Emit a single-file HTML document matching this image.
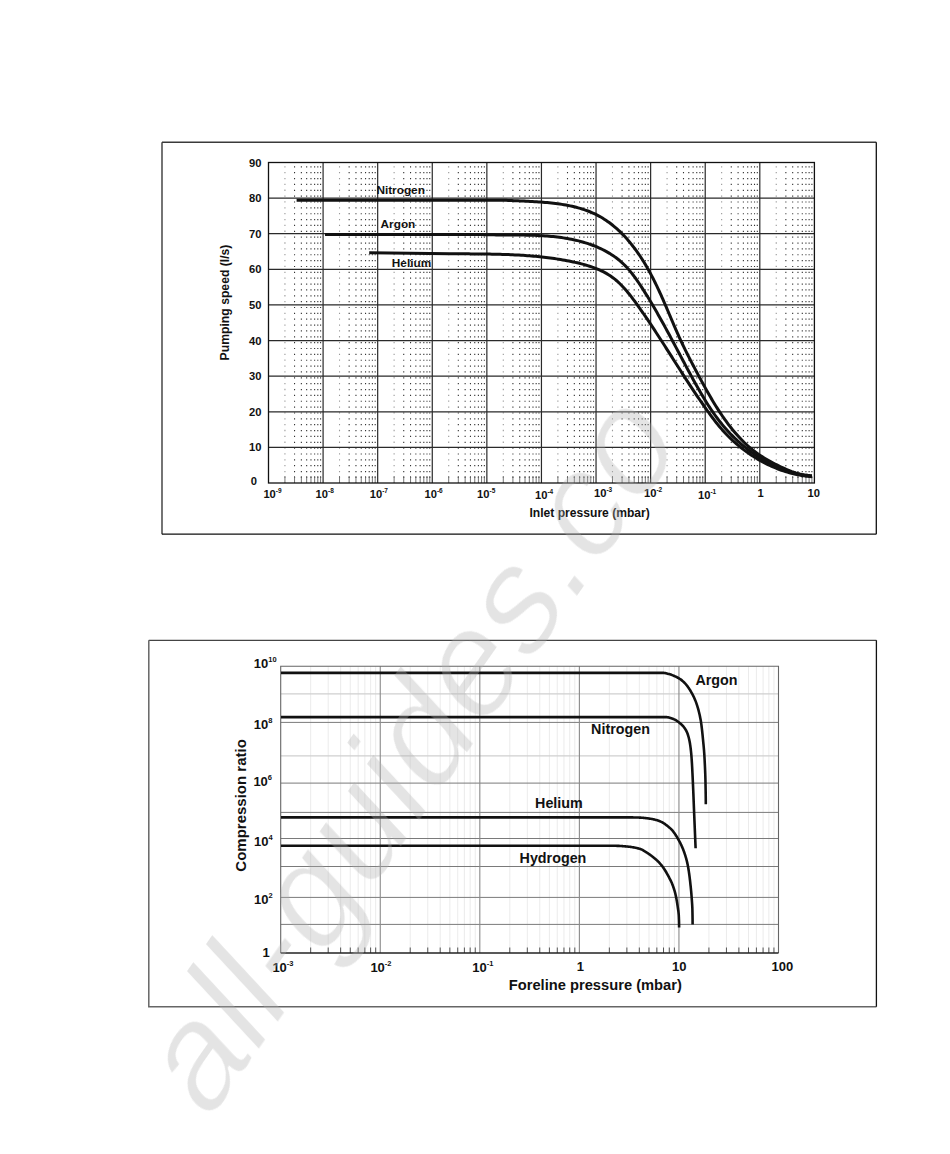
<!DOCTYPE html>
<html><head><meta charset="utf-8"><style>
html,body{margin:0;padding:0;background:#fff;width:950px;height:1154px;overflow:hidden}
svg{display:block}
text{font-family:"Liberation Sans", sans-serif;font-weight:bold;fill:#111}
path{fill:none}
text.wm{font-weight:normal;fill:rgb(176,176,176);fill-opacity:0.34}
</style></head><body>
<svg width="950" height="1154" viewBox="0 0 950 1154">
<defs><filter id="thin" x="-5%" y="-20%" width="110%" height="140%"><feMorphology operator="erode" radius="1.3"/></filter></defs>
<g><path d="M162 142.3 H876.3" stroke="#3a3a3a" stroke-width="1.4"/><path d="M162 142.3 V534.2" stroke="#3a3a3a" stroke-width="1.4"/><path d="M876.3 142.3 V534.2 M162 534.2 H876.3" stroke="#111" stroke-width="1.3"/><path d="M294.55 483V162.5M301.37 483V162.5M306.66 483V162.5M310.98 483V162.5M314.63 483V162.5M317.8 483V162.5M320.59 483V162.5M349.14 483V162.5M355.96 483V162.5M361.25 483V162.5M365.57 483V162.5M369.22 483V162.5M372.39 483V162.5M375.18 483V162.5M403.73 483V162.5M410.55 483V162.5M415.84 483V162.5M420.16 483V162.5M423.81 483V162.5M426.98 483V162.5M429.77 483V162.5M458.32 483V162.5M465.14 483V162.5M470.43 483V162.5M474.75 483V162.5M478.4 483V162.5M481.57 483V162.5M484.36 483V162.5M512.91 483V162.5M519.73 483V162.5M525.02 483V162.5M529.34 483V162.5M532.99 483V162.5M536.16 483V162.5M538.95 483V162.5M567.5 483V162.5M574.32 483V162.5M579.61 483V162.5M583.93 483V162.5M587.58 483V162.5M590.75 483V162.5M593.54 483V162.5M622.09 483V162.5M628.91 483V162.5M634.2 483V162.5M638.52 483V162.5M642.17 483V162.5M645.34 483V162.5M648.13 483V162.5M676.68 483V162.5M683.5 483V162.5M688.79 483V162.5M693.11 483V162.5M696.76 483V162.5M699.93 483V162.5M702.72 483V162.5M731.27 483V162.5M738.09 483V162.5M743.38 483V162.5M747.7 483V162.5M751.35 483V162.5M754.52 483V162.5M757.31 483V162.5M785.86 483V162.5M792.68 483V162.5M797.97 483V162.5M802.29 483V162.5M805.94 483V162.5M809.11 483V162.5M811.9 483V162.5" stroke="#333" stroke-width="1.1" stroke-dasharray="1.2 4.66" stroke-dashoffset="0.9"/><path d="M284.93 483V162.5M339.52 483V162.5M394.11 483V162.5M448.7 483V162.5M503.29 483V162.5M557.88 483V162.5M612.47 483V162.5M667.06 483V162.5M721.65 483V162.5M776.24 483V162.5" stroke="#999" stroke-width="1.1" stroke-dasharray="1.3 4.56" stroke-dashoffset="0.9"/><path d="M284.93 483V476M294.55 483V476M301.37 483V476M306.66 483V476M310.98 483V476M314.63 483V476M317.8 483V476M320.59 483V476M339.52 483V476M349.14 483V476M355.96 483V476M361.25 483V476M365.57 483V476M369.22 483V476M372.39 483V476M375.18 483V476M394.11 483V476M403.73 483V476M410.55 483V476M415.84 483V476M420.16 483V476M423.81 483V476M426.98 483V476M429.77 483V476M448.7 483V476M458.32 483V476M465.14 483V476M470.43 483V476M474.75 483V476M478.4 483V476M481.57 483V476M484.36 483V476M503.29 483V476M512.91 483V476M519.73 483V476M525.02 483V476M529.34 483V476M532.99 483V476M536.16 483V476M538.95 483V476M557.88 483V476M567.5 483V476M574.32 483V476M579.61 483V476M583.93 483V476M587.58 483V476M590.75 483V476M593.54 483V476M612.47 483V476M622.09 483V476M628.91 483V476M634.2 483V476M638.52 483V476M642.17 483V476M645.34 483V476M648.13 483V476M667.06 483V476M676.68 483V476M683.5 483V476M688.79 483V476M693.11 483V476M696.76 483V476M699.93 483V476M702.72 483V476M721.65 483V476M731.27 483V476M738.09 483V476M743.38 483V476M747.7 483V476M751.35 483V476M754.52 483V476M757.31 483V476M776.24 483V476M785.86 483V476M792.68 483V476M797.97 483V476M802.29 483V476M805.94 483V476M809.11 483V476M811.9 483V476" stroke="#666" stroke-width="0.9"/><path d="M323.09 162.5V483M377.68 162.5V483M432.27 162.5V483M486.86 162.5V483M541.45 162.5V483M596.04 162.5V483M650.63 162.5V483M705.22 162.5V483M759.81 162.5V483M268.5 198.11H814.4M268.5 233.72H814.4M268.5 269.33H814.4M268.5 304.94H814.4M268.5 340.56H814.4M268.5 376.17H814.4M268.5 411.78H814.4M268.5 447.39H814.4" stroke="#2a2a2a" stroke-width="1.2"/><rect x="268.5" y="162.5" width="545.9" height="320.5" fill="none" stroke="#111" stroke-width="1.3"/><path d="M296.6 200.2L500.26 200.15L502.25 200.2L504.23 200.27L506.21 200.34L508.17 200.42L510.13 200.5L512.1 200.59L514.08 200.68L516.07 200.77L518.08 200.86L520.1 200.94L522.13 201.03L524.17 201.12L526.23 201.22L528.29 201.31L530.37 201.42L532.45 201.53L534.54 201.65L536.64 201.77L538.74 201.91L540.84 202.06L542.95 202.21L545.05 202.39L547.16 202.57L549.27 202.78L551.38 202.99L553.49 203.23L555.59 203.49L557.69 203.76L559.78 204.06L561.87 204.37L563.95 204.72L566.02 205.08L568.08 205.47L570.13 205.89L572.17 206.33L574.2 206.81L576.22 207.31L578.22 207.84L580.21 208.41L582.17 209.01L584.13 209.64L586.06 210.31L587.98 211.02L589.87 211.76L591.75 212.54L593.6 213.36L595.43 214.22L597.23 215.13L599.01 216.07L600.76 217.06L602.5 218.08L604.2 219.15L605.89 220.25L607.55 221.39L609.18 222.56L610.8 223.77L612.39 225.02L613.96 226.29L615.5 227.6L617.03 228.94L618.53 230.31L620.01 231.71L621.46 233.14L622.9 234.59L624.31 236.07L625.71 237.58L627.08 239.11L628.43 240.66L629.76 242.24L631.07 243.83L632.36 245.45L633.62 247.09L634.87 248.74L636.1 250.41L637.31 252.1L638.5 253.81L639.67 255.53L640.82 257.26L641.96 259.01L643.07 260.77L644.16 262.54L645.24 264.32L646.3 266.1L647.34 267.9L648.36 269.7L649.37 271.51L650.36 273.32L651.33 275.15L652.29 276.97L653.23 278.8L654.16 280.64L655.07 282.48L655.98 284.32L656.87 286.17L657.75 288.03L658.62 289.88L659.48 291.75L660.33 293.61L661.17 295.48L662 297.35L662.83 299.22L663.66 301.09L664.47 302.97L665.28 304.85L666.09 306.72L666.9 308.6L667.7 310.49L668.5 312.37L669.3 314.25L670.1 316.13L670.9 318.02L671.7 319.9L672.5 321.78L673.31 323.66L674.12 325.54L674.93 327.42L675.74 329.3L676.57 331.17L677.4 333.05L678.23 334.92L679.07 336.79L679.92 338.66L680.78 340.52L681.65 342.38L682.53 344.24L683.42 346.09L684.31 347.94L685.22 349.79L686.13 351.63L687.05 353.48L687.97 355.32L688.9 357.15L689.84 358.99L690.79 360.82L691.74 362.66L692.69 364.49L693.65 366.31L694.61 368.14L695.58 369.97L696.55 371.79L697.52 373.61L698.5 375.43L699.48 377.25L700.46 379.07L701.44 380.89L702.43 382.7L703.42 384.52L704.41 386.33L705.41 388.13L706.42 389.94L707.43 391.73L708.45 393.53L709.47 395.32L710.51 397.1L711.55 398.88L712.6 400.65L713.66 402.41L714.73 404.17L715.81 405.92L716.9 407.66L718 409.39L719.11 411.11L720.24 412.83L721.38 414.53L722.53 416.23L723.7 417.91L724.88 419.58L726.08 421.24L727.29 422.89L728.52 424.53L729.77 426.15L731.04 427.76L732.32 429.35L733.62 430.94L734.94 432.5L736.28 434.05L737.64 435.59L739.02 437.1L740.42 438.6L741.84 440.07L743.28 441.52L744.74 442.95L746.23 444.36L747.74 445.74L749.27 447.1L750.83 448.43L752.41 449.73L754.01 451L755.64 452.24L757.3 453.45L758.98 454.63L760.68 455.77L762.41 456.88L764.17 457.97L765.94 459.02L767.73 460.05L769.53 461.06L771.35 462.04L773.18 463.01L775.02 463.96L776.87 464.9L778.72 465.83L780.58 466.73L782.44 467.61L784.32 468.47L786.2 469.3L788.1 470.09L790 470.85L791.92 471.57L793.85 472.24L795.8 472.86L797.76 473.43L799.74 473.94L801.73 474.4L803.74 474.79L805.77 475.11L807.82 475.36L809.89 475.54L811.98 475.64" fill="none" stroke="#111" stroke-width="3"/><path d="M325 234.5L480.16 234.47L482.13 234.55L484.11 234.63L486.09 234.69L488.08 234.74L490.07 234.79L492.07 234.83L494.07 234.86L496.08 234.89L498.09 234.91L500.1 234.92L502.12 234.93L504.14 234.94L506.17 234.95L508.2 234.96L510.23 234.97L512.27 234.98L514.3 234.99L516.34 235L518.39 235.01L520.43 235.03L522.48 235.06L524.52 235.09L526.57 235.13L528.62 235.17L530.67 235.22L532.72 235.29L534.78 235.36L536.83 235.44L538.88 235.54L540.93 235.64L542.98 235.76L545.03 235.9L547.08 236.05L549.13 236.21L551.17 236.39L553.22 236.59L555.26 236.81L557.3 237.05L559.34 237.3L561.37 237.58L563.41 237.88L565.44 238.2L567.46 238.55L569.49 238.92L571.51 239.31L573.52 239.73L575.53 240.18L577.54 240.65L579.53 241.15L581.52 241.68L583.5 242.24L585.46 242.82L587.42 243.44L589.36 244.08L591.28 244.76L593.19 245.47L595.09 246.21L596.96 246.98L598.82 247.79L600.66 248.63L602.48 249.5L604.27 250.41L606.04 251.35L607.79 252.33L609.51 253.34L611.21 254.4L612.88 255.49L614.51 256.61L616.12 257.78L617.7 258.99L619.25 260.23L620.76 261.52L622.24 262.84L623.68 264.21L625.09 265.62L626.47 267.06L627.82 268.54L629.14 270.05L630.43 271.59L631.7 273.16L632.94 274.76L634.16 276.37L635.36 278.01L636.54 279.67L637.71 281.34L638.85 283.03L639.99 284.73L641.11 286.44L642.22 288.16L643.33 289.88L644.42 291.61L645.51 293.34L646.59 295.07L647.66 296.81L648.73 298.56L649.79 300.3L650.84 302.05L651.88 303.81L652.92 305.56L653.95 307.32L654.98 309.08L656 310.85L657.02 312.62L658.03 314.39L659.03 316.16L660.04 317.94L661.03 319.72L662.02 321.5L663.01 323.28L664 325.07L664.98 326.85L665.95 328.64L666.93 330.43L667.9 332.22L668.87 334.02L669.84 335.81L670.8 337.61L671.76 339.4L672.72 341.2L673.68 343L674.64 344.79L675.59 346.59L676.55 348.39L677.5 350.19L678.46 351.99L679.41 353.79L680.37 355.59L681.32 357.39L682.28 359.19L683.23 360.99L684.19 362.79L685.14 364.58L686.1 366.38L687.06 368.18L688.03 369.97L688.99 371.76L689.96 373.56L690.93 375.35L691.9 377.13L692.87 378.92L693.85 380.71L694.83 382.49L695.82 384.27L696.81 386.04L697.81 387.82L698.82 389.58L699.83 391.35L700.85 393.1L701.88 394.85L702.92 396.6L703.96 398.34L705.02 400.07L706.09 401.79L707.17 403.51L708.26 405.21L709.36 406.91L710.47 408.6L711.6 410.28L712.75 411.95L713.91 413.6L715.08 415.25L716.27 416.88L717.47 418.51L718.7 420.12L719.94 421.71L721.2 423.3L722.47 424.87L723.77 426.42L725.09 427.96L726.43 429.48L727.78 430.99L729.16 432.49L730.56 433.96L731.98 435.42L733.42 436.86L734.88 438.29L736.36 439.69L737.86 441.08L739.37 442.44L740.91 443.79L742.46 445.12L744.03 446.42L745.62 447.71L747.22 448.97L748.84 450.22L750.48 451.44L752.14 452.63L753.81 453.81L755.5 454.96L757.2 456.08L758.91 457.19L760.65 458.26L762.39 459.31L764.15 460.34L765.93 461.34L767.72 462.31L769.52 463.26L771.34 464.18L773.16 465.07L775 465.93L776.86 466.76L778.72 467.56L780.6 468.34L782.49 469.08L784.38 469.79L786.29 470.48L788.21 471.13L790.14 471.74L792.09 472.33L794.03 472.88L795.99 473.4L797.96 473.89L799.94 474.34L801.92 474.76L803.92 475.14L805.92 475.49L807.93 475.8L809.95 476.08L811.97 476.32" fill="none" stroke="#111" stroke-width="3"/><path d="M369.2 252.7L449.97 253.65L452.08 253.68L454.18 253.71L456.28 253.73L458.38 253.76L460.48 253.78L462.58 253.8L464.68 253.82L466.78 253.84L468.87 253.86L470.97 253.88L473.06 253.9L475.15 253.92L477.25 253.94L479.34 253.96L481.43 253.99L483.52 254.01L485.61 254.04L487.7 254.07L489.79 254.11L491.87 254.15L493.96 254.19L496.05 254.24L498.13 254.29L500.22 254.34L502.3 254.4L504.39 254.47L506.47 254.54L508.56 254.62L510.64 254.71L512.72 254.8L514.81 254.9L516.89 255L518.97 255.12L521.05 255.24L523.14 255.37L525.22 255.51L527.3 255.66L529.38 255.81L531.46 255.98L533.55 256.16L535.63 256.35L537.71 256.55L539.79 256.76L541.87 256.98L543.96 257.21L546.04 257.46L548.12 257.71L550.21 257.99L552.29 258.27L554.37 258.57L556.46 258.88L558.54 259.2L560.63 259.54L562.71 259.9L564.8 260.27L566.89 260.65L568.97 261.05L571.06 261.47L573.15 261.91L575.24 262.36L577.32 262.83L579.39 263.33L581.46 263.85L583.52 264.4L585.56 264.97L587.59 265.58L589.61 266.21L591.61 266.88L593.59 267.59L595.54 268.33L597.48 269.11L599.39 269.93L601.27 270.8L603.12 271.71L604.94 272.66L606.73 273.66L608.48 274.71L610.2 275.82L611.87 276.97L613.51 278.18L615.11 279.44L616.67 280.75L618.2 282.11L619.69 283.51L621.15 284.95L622.59 286.43L623.99 287.95L625.37 289.49L626.73 291.07L628.06 292.67L629.38 294.3L630.67 295.94L631.95 297.61L633.22 299.29L634.47 300.98L635.72 302.69L636.95 304.4L638.18 306.11L639.4 307.83L640.61 309.55L641.82 311.27L643.02 313L644.22 314.73L645.41 316.47L646.6 318.21L647.78 319.95L648.95 321.69L650.12 323.44L651.29 325.19L652.45 326.94L653.61 328.69L654.77 330.44L655.92 332.2L657.07 333.96L658.21 335.72L659.35 337.48L660.49 339.25L661.63 341.01L662.76 342.78L663.9 344.54L665.03 346.31L666.16 348.08L667.28 349.85L668.41 351.62L669.54 353.38L670.66 355.15L671.79 356.92L672.91 358.69L674.03 360.46L675.16 362.23L676.28 364L677.41 365.76L678.53 367.53L679.66 369.29L680.79 371.06L681.92 372.82L683.05 374.58L684.18 376.34L685.32 378.1L686.46 379.86L687.6 381.61L688.74 383.36L689.89 385.11L691.03 386.86L692.19 388.61L693.34 390.35L694.5 392.09L695.67 393.82L696.83 395.56L698.01 397.29L699.18 399.01L700.37 400.74L701.55 402.46L702.75 404.17L703.94 405.89L705.15 407.59L706.36 409.3L707.57 411L708.8 412.69L710.02 414.38L711.26 416.07L712.51 417.74L713.77 419.41L715.04 421.06L716.33 422.71L717.63 424.33L718.95 425.95L720.29 427.55L721.65 429.12L723.03 430.68L724.44 432.22L725.86 433.74L727.3 435.24L728.77 436.72L730.26 438.18L731.77 439.62L733.3 441.04L734.85 442.43L736.42 443.81L738.01 445.16L739.62 446.5L741.25 447.81L742.91 449.1L744.58 450.36L746.27 451.61L747.98 452.83L749.71 454.02L751.46 455.2L753.22 456.34L755 457.47L756.8 458.56L758.61 459.63L760.44 460.67L762.29 461.69L764.15 462.68L766.02 463.64L767.91 464.57L769.81 465.47L771.72 466.34L773.65 467.18L775.58 467.99L777.53 468.77L779.49 469.52L781.46 470.23L783.44 470.92L785.43 471.57L787.43 472.18L789.44 472.76L791.45 473.31L793.47 473.82L795.5 474.3L797.54 474.74L799.58 475.14L801.63 475.5L803.69 475.83L805.74 476.12L807.81 476.37L809.87 476.59L811.95 476.76" fill="none" stroke="#111" stroke-width="3"/><text x="261.5" y="166.5" text-anchor="end" font-size="11.2">90</text><text x="261.5" y="202.1" text-anchor="end" font-size="11.2">80</text><text x="261.5" y="237.7" text-anchor="end" font-size="11.2">70</text><text x="261.5" y="273.3" text-anchor="end" font-size="11.2">60</text><text x="261.5" y="308.9" text-anchor="end" font-size="11.2">50</text><text x="261.5" y="344.6" text-anchor="end" font-size="11.2">40</text><text x="261.5" y="380.2" text-anchor="end" font-size="11.2">30</text><text x="261.5" y="415.8" text-anchor="end" font-size="11.2">20</text><text x="261.5" y="451.4" text-anchor="end" font-size="11.2">10</text><text x="256.9" y="484.5" text-anchor="end" font-size="11.2">0</text><text x="263.4" y="497.8" font-size="11.2">10<tspan font-size="6.5" dy="-5">-9</tspan></text><text x="315.6" y="497.8" font-size="11.2">10<tspan font-size="6.5" dy="-5">-8</tspan></text><text x="369.7" y="497.8" font-size="11.2">10<tspan font-size="6.5" dy="-5">-7</tspan></text><text x="424.5" y="497.8" font-size="11.2">10<tspan font-size="6.5" dy="-5">-6</tspan></text><text x="477.1" y="497.8" font-size="11.2">10<tspan font-size="6.5" dy="-5">-5</tspan></text><text x="535" y="499.3" font-size="11.2">10<tspan font-size="6.5" dy="-5">-4</tspan></text><text x="594" y="497" font-size="11.2">10<tspan font-size="6.5" dy="-5">-3</tspan></text><text x="644" y="496.5" font-size="11.2">10<tspan font-size="6.5" dy="-5">-2</tspan></text><text x="698" y="499" font-size="11.2">10<tspan font-size="6.5" dy="-5">-1</tspan></text><text x="757.6" y="496.5" font-size="11.2">1</text><text x="807.6" y="497" font-size="11.2">10</text><text x="529.5" y="517.3" font-size="12.1">Inlet pressure (mbar)</text><text transform="translate(229.3 302.5) rotate(-90)" text-anchor="middle" font-size="12.2">Pumping speed (l/s)</text><text x="376.4" y="193.8" font-size="11.8">Nitrogen</text><text x="380.6" y="228.1" font-size="11.8">Argon</text><text x="391.8" y="267.4" font-size="11.8">Helium</text></g>
<g><path d="M148.8 640.3 H876.4" stroke="#444" stroke-width="1.3"/><path d="M148.8 640.3 V1006.8 H876.4" stroke="#666" stroke-width="1.5"/><path d="M876.4 640.3 V1006.8" stroke="#111" stroke-width="1.3"/><path d="M310.67 666.2V953M328.2 666.2V953M340.64 666.2V953M350.29 666.2V953M358.17 666.2V953M364.84 666.2V953M370.61 666.2V953M375.7 666.2V953M410.23 666.2V953M427.76 666.2V953M440.2 666.2V953M449.85 666.2V953M457.73 666.2V953M464.4 666.2V953M470.17 666.2V953M475.26 666.2V953M509.79 666.2V953M527.32 666.2V953M539.76 666.2V953M549.41 666.2V953M557.29 666.2V953M563.96 666.2V953M569.73 666.2V953M574.82 666.2V953M609.35 666.2V953M626.88 666.2V953M639.32 666.2V953M648.97 666.2V953M656.85 666.2V953M663.52 666.2V953M669.29 666.2V953M674.38 666.2V953M708.91 666.2V953M726.44 666.2V953M738.88 666.2V953M748.53 666.2V953M756.41 666.2V953M763.08 666.2V953M768.85 666.2V953M773.94 666.2V953" stroke="#e9e9e9" stroke-width="0.9"/><path d="M280.7 693.8H778.5M280.7 755.9H778.5" stroke="#cfcfcf" stroke-width="1.2"/><path d="M280.7 722.4H778.5M280.7 783.1H778.5M280.7 812.4H778.5M280.7 838.5H778.5M280.7 866.5H778.5M280.7 897.4H778.5M280.7 924.4H778.5" stroke="#7a7a7a" stroke-width="1"/><path d="M380.26 666.2V953M479.82 666.2V953M579.38 666.2V953M678.94 666.2V953" stroke="#8a8a8a" stroke-width="1.1"/><path d="M310.67 953V947.5M328.2 953V947.5M340.64 953V947.5M350.29 953V947.5M358.17 953V947.5M364.84 953V947.5M370.61 953V947.5M375.7 953V947.5M410.23 953V947.5M427.76 953V947.5M440.2 953V947.5M449.85 953V947.5M457.73 953V947.5M464.4 953V947.5M470.17 953V947.5M475.26 953V947.5M509.79 953V947.5M527.32 953V947.5M539.76 953V947.5M549.41 953V947.5M557.29 953V947.5M563.96 953V947.5M569.73 953V947.5M574.82 953V947.5M609.35 953V947.5M626.88 953V947.5M639.32 953V947.5M648.97 953V947.5M656.85 953V947.5M663.52 953V947.5M669.29 953V947.5M674.38 953V947.5M708.91 953V947.5M726.44 953V947.5M738.88 953V947.5M748.53 953V947.5M756.41 953V947.5M763.08 953V947.5M768.85 953V947.5M773.94 953V947.5" stroke="#555" stroke-width="1"/><path d="M280.7 953V666.2H778.5V953" fill="none" stroke="#666" stroke-width="1.1"/><path d="M280.7 953H778.5" stroke="#222" stroke-width="1.3"/><path d="M281 672.9L655 672.9L655.8 672.9L656.6 672.9L657.4 672.9L658.19 672.9L658.99 672.9L659.78 672.9L660.57 672.9L661.36 672.9L662.14 672.9L662.93 672.9L663.71 672.91L664.5 672.98L665.28 673.11L666.06 673.27L666.84 673.46L667.62 673.67L668.38 673.89L669.15 674.1L669.91 674.31L670.66 674.55L671.41 674.81L672.15 675.09L672.89 675.39L673.63 675.7L674.36 676.02L675.08 676.34L675.79 676.68L676.51 677.02L677.22 677.38L677.93 677.76L678.62 678.15L679.3 678.55L679.97 678.98L680.61 679.42L681.25 679.89L681.87 680.38L682.48 680.89L683.08 681.42L683.66 681.97L684.23 682.52L684.78 683.09L685.32 683.66L685.84 684.25L686.36 684.86L686.86 685.48L687.35 686.11L687.82 686.75L688.28 687.39L688.74 688.04L689.17 688.7L689.6 689.37L690.01 690.04L690.42 690.73L690.82 691.42L691.21 692.11L691.6 692.8L691.98 693.49L692.37 694.18L692.75 694.88L693.12 695.58L693.48 696.29L693.83 697L694.16 697.72L694.48 698.44L694.8 699.17L695.1 699.9L695.4 700.63L695.69 701.38L695.97 702.12L696.24 702.86L696.5 703.61L696.75 704.36L697 705.11L697.24 705.87L697.47 706.62L697.7 707.38L697.93 708.15L698.14 708.91L698.36 709.68L698.56 710.44L698.76 711.21L698.95 711.98L699.14 712.75L699.32 713.52L699.5 714.29L699.67 715.06L699.84 715.84L700.01 716.61L700.17 717.39L700.33 718.17L700.48 718.95L700.62 719.73L700.76 720.51L700.89 721.29L701.01 722.07L701.13 722.85L701.24 723.64L701.35 724.42L701.45 725.21L701.55 725.99L701.65 726.78L701.75 727.56L701.84 728.35L701.93 729.14L702.02 729.93L702.11 730.71L702.2 731.5L702.28 732.29L702.36 733.08L702.44 733.87L702.52 734.66L702.6 735.45L702.68 736.24L702.76 737.03L702.84 737.82L702.91 738.61L702.99 739.4L703.07 740.18L703.14 740.97L703.22 741.76L703.3 742.55L703.37 743.34L703.45 744.13L703.53 744.92L703.6 745.71L703.67 746.5L703.75 747.29L703.82 748.08L703.89 748.87L703.95 749.66L704.02 750.45L704.08 751.24L704.14 752.03L704.2 752.82L704.26 753.61L704.31 754.4L704.36 755.19L704.4 755.98L704.45 756.77L704.49 757.56L704.54 758.35L704.58 759.14L704.62 759.93L704.66 760.72L704.7 761.52L704.74 762.31L704.78 763.1L704.82 763.89L704.86 764.68L704.9 765.47L704.94 766.27L704.97 767.06L705.01 767.85L705.04 768.64L705.07 769.43L705.11 770.23L705.14 771.02L705.17 771.81L705.2 772.6L705.23 773.4L705.26 774.19L705.28 774.98L705.31 775.77L705.34 776.56L705.36 777.36L705.38 778.15L705.41 778.94L705.43 779.73L705.45 780.53L705.47 781.32L705.48 782.11L705.5 782.9L705.52 783.7L705.53 784.49L705.55 785.28L705.56 786.07L705.58 786.86L705.59 787.66L705.61 788.45L705.62 789.24L705.64 790.03L705.65 790.83L705.67 791.62L705.68 792.41L705.69 793.2L705.7 794L705.72 794.79L705.73 795.58L705.74 796.37L705.75 797.17L705.76 797.96L705.77 798.75L705.77 799.54L705.78 800.34L705.79 801.13L705.79 801.92L705.79 802.71L705.8 803.51L705.8 804.3" fill="none" stroke="#111" stroke-width="2.6"/><path d="M281 717.1L655 717.1L655.79 717.1L656.58 717.1L657.36 717.1L658.15 717.1L658.93 717.1L659.7 717.1L660.48 717.1L661.26 717.1L662.03 717.1L662.8 717.1L663.57 717.1L664.34 717.1L665.1 717.1L665.86 717.1L666.63 717.14L667.4 717.23L668.17 717.37L668.94 717.54L669.7 717.75L670.46 717.98L671.22 718.24L671.96 718.51L672.69 718.79L673.41 719.07L674.11 719.34L674.8 719.65L675.49 719.99L676.17 720.37L676.84 720.79L677.5 721.23L678.14 721.69L678.78 722.17L679.39 722.66L679.99 723.16L680.56 723.66L681.13 724.17L681.69 724.7L682.24 725.26L682.79 725.84L683.31 726.43L683.82 727.04L684.31 727.66L684.76 728.29L685.19 728.93L685.59 729.58L685.96 730.24L686.31 730.92L686.65 731.62L686.97 732.33L687.28 733.06L687.57 733.8L687.83 734.53L688.08 735.28L688.3 736.01L688.51 736.75L688.71 737.5L688.9 738.25L689.08 739L689.25 739.76L689.41 740.53L689.57 741.29L689.71 742.06L689.85 742.83L689.98 743.59L690.1 744.36L690.22 745.13L690.33 745.89L690.43 746.66L690.53 747.43L690.63 748.2L690.73 748.97L690.82 749.74L690.9 750.51L690.99 751.29L691.07 752.06L691.14 752.83L691.22 753.61L691.29 754.38L691.35 755.16L691.42 755.93L691.48 756.7L691.54 757.48L691.59 758.25L691.65 759.02L691.7 759.8L691.75 760.57L691.8 761.35L691.85 762.12L691.9 762.89L691.95 763.67L691.99 764.44L692.04 765.22L692.08 765.99L692.12 766.77L692.17 767.54L692.21 768.32L692.25 769.09L692.29 769.87L692.33 770.65L692.37 771.42L692.4 772.2L692.44 772.97L692.48 773.75L692.51 774.52L692.55 775.3L692.59 776.08L692.62 776.85L692.66 777.63L692.69 778.4L692.73 779.18L692.76 779.95L692.8 780.73L692.84 781.5L692.87 782.28L692.91 783.06L692.94 783.83L692.98 784.61L693.01 785.38L693.05 786.16L693.08 786.93L693.12 787.71L693.15 788.48L693.18 789.26L693.22 790.03L693.25 790.81L693.28 791.58L693.31 792.36L693.34 793.14L693.37 793.91L693.41 794.69L693.44 795.46L693.47 796.24L693.5 797.01L693.53 797.79L693.56 798.57L693.59 799.34L693.62 800.12L693.65 800.89L693.68 801.67L693.71 802.44L693.74 803.22L693.77 803.99L693.8 804.77L693.83 805.55L693.86 806.32L693.89 807.1L693.92 807.87L693.96 808.65L693.99 809.42L694.02 810.2L694.05 810.97L694.08 811.75L694.11 812.53L694.15 813.3L694.18 814.08L694.21 814.85L694.24 815.63L694.27 816.4L694.31 817.18L694.34 817.95L694.37 818.73L694.4 819.51L694.43 820.28L694.47 821.06L694.5 821.83L694.53 822.61L694.56 823.38L694.6 824.16L694.63 824.93L694.66 825.71L694.69 826.49L694.72 827.26L694.76 828.04L694.79 828.81L694.82 829.59L694.85 830.36L694.89 831.14L694.92 831.91L694.95 832.69L694.98 833.47L695.02 834.24L695.05 835.02L695.08 835.79L695.11 836.57L695.14 837.34L695.18 838.12L695.21 838.89L695.24 839.67L695.27 840.44L695.31 841.22L695.34 842L695.37 842.77L695.4 843.55L695.44 844.32L695.47 845.1L695.5 845.87L695.53 846.65L695.57 847.42L695.6 848.2" fill="none" stroke="#111" stroke-width="2.6"/><path d="M281 817.4L630 817.4L630.72 817.4L631.45 817.41L632.17 817.41L632.89 817.42L633.62 817.43L634.34 817.44L635.06 817.46L635.78 817.48L636.5 817.49L637.22 817.51L637.94 817.53L638.67 817.56L639.39 817.58L640.11 817.6L640.83 817.64L641.55 817.68L642.27 817.73L642.99 817.79L643.71 817.86L644.43 817.93L645.15 818.02L645.86 818.1L646.58 818.2L647.3 818.29L648.01 818.39L648.73 818.49L649.44 818.59L650.15 818.7L650.87 818.81L651.58 818.94L652.29 819.08L653 819.23L653.71 819.38L654.41 819.55L655.11 819.72L655.8 819.9L656.5 820.1L657.19 820.31L657.88 820.54L658.57 820.78L659.25 821.04L659.92 821.31L660.59 821.59L661.25 821.89L661.89 822.2L662.52 822.52L663.14 822.87L663.75 823.26L664.35 823.66L664.95 824.08L665.53 824.52L666.11 824.96L666.69 825.4L667.26 825.85L667.83 826.29L668.4 826.74L668.97 827.19L669.53 827.66L670.08 828.13L670.61 828.62L671.13 829.11L671.62 829.63L672.1 830.16L672.57 830.7L673.02 831.27L673.46 831.84L673.89 832.43L674.31 833.02L674.73 833.62L675.14 834.21L675.54 834.81L675.94 835.41L676.33 836.02L676.71 836.63L677.09 837.25L677.46 837.87L677.82 838.5L678.18 839.13L678.53 839.75L678.88 840.39L679.22 841.02L679.56 841.66L679.9 842.3L680.23 842.94L680.56 843.59L680.88 844.24L681.19 844.89L681.49 845.54L681.79 846.2L682.08 846.86L682.36 847.52L682.64 848.19L682.91 848.86L683.18 849.53L683.44 850.21L683.69 850.88L683.94 851.56L684.18 852.24L684.41 852.92L684.65 853.6L684.88 854.29L685.1 854.98L685.32 855.67L685.54 856.36L685.75 857.05L685.95 857.74L686.15 858.44L686.34 859.13L686.53 859.83L686.71 860.53L686.88 861.23L687.05 861.93L687.21 862.63L687.37 863.34L687.52 864.04L687.67 864.75L687.81 865.46L687.95 866.17L688.09 866.88L688.21 867.59L688.33 868.3L688.45 869.01L688.57 869.72L688.68 870.44L688.79 871.15L688.89 871.86L689 872.58L689.1 873.29L689.2 874.01L689.3 874.72L689.39 875.44L689.49 876.16L689.58 876.87L689.67 877.59L689.76 878.31L689.84 879.03L689.93 879.74L690.01 880.46L690.1 881.18L690.18 881.9L690.26 882.61L690.34 883.33L690.41 884.05L690.49 884.77L690.57 885.48L690.64 886.2L690.72 886.92L690.79 887.64L690.86 888.36L690.94 889.08L691.01 889.79L691.07 890.51L691.14 891.23L691.21 891.95L691.27 892.67L691.34 893.39L691.4 894.11L691.46 894.83L691.51 895.55L691.57 896.27L691.63 896.99L691.68 897.71L691.73 898.43L691.78 899.15L691.83 899.87L691.89 900.59L691.94 901.31L691.99 902.03L692.04 902.75L692.09 903.47L692.13 904.19L692.18 904.91L692.22 905.63L692.26 906.35L692.3 907.08L692.33 907.8L692.36 908.52L692.38 909.24L692.4 909.96L692.42 910.68L692.43 911.4L692.45 912.13L692.46 912.85L692.48 913.57L692.49 914.29L692.5 915.01L692.52 915.73L692.53 916.46L692.54 917.18L692.55 917.9L692.56 918.62L692.57 919.34L692.58 920.07L692.58 920.79L692.59 921.51L692.59 922.23L692.6 922.95L692.6 923.68L692.6 924.4" fill="none" stroke="#111" stroke-width="2.6"/><path d="M281 845.8L615 845.8L615.6 845.8L616.19 845.81L616.79 845.83L617.39 845.84L617.98 845.87L618.58 845.89L619.17 845.92L619.76 845.95L620.36 845.99L620.95 846.03L621.54 846.07L622.14 846.11L622.73 846.16L623.32 846.2L623.91 846.25L624.5 846.3L625.09 846.35L625.68 846.4L626.27 846.45L626.86 846.51L627.45 846.56L628.05 846.62L628.64 846.68L629.23 846.75L629.83 846.83L630.43 846.91L631.02 846.99L631.62 847.08L632.22 847.17L632.81 847.27L633.4 847.37L634 847.48L634.59 847.59L635.17 847.71L635.76 847.83L636.34 847.96L636.92 848.09L637.49 848.23L638.06 848.37L638.63 848.52L639.19 848.67L639.74 848.82L640.29 848.99L640.83 849.19L641.37 849.41L641.9 849.66L642.43 849.94L642.96 850.23L643.48 850.53L644 850.85L644.51 851.17L645.02 851.5L645.53 851.82L646.04 852.14L646.54 852.45L647.04 852.76L647.54 853.08L648.04 853.41L648.54 853.74L649.03 854.07L649.52 854.41L650.01 854.76L650.49 855.1L650.97 855.46L651.45 855.81L651.92 856.17L652.39 856.53L652.85 856.9L653.32 857.27L653.78 857.64L654.24 858.02L654.7 858.4L655.16 858.79L655.61 859.18L656.06 859.57L656.51 859.97L656.95 860.37L657.38 860.78L657.81 861.19L658.23 861.61L658.64 862.03L659.05 862.45L659.45 862.89L659.84 863.33L660.24 863.77L660.62 864.22L661 864.68L661.38 865.15L661.75 865.62L662.12 866.09L662.48 866.57L662.83 867.05L663.18 867.53L663.52 868.01L663.86 868.5L664.19 868.99L664.52 869.48L664.84 869.98L665.16 870.48L665.47 870.99L665.78 871.5L666.08 872.01L666.38 872.52L666.68 873.04L666.97 873.56L667.26 874.08L667.55 874.6L667.83 875.13L668.11 875.65L668.39 876.17L668.67 876.69L668.95 877.22L669.23 877.75L669.51 878.27L669.79 878.8L670.06 879.33L670.33 879.86L670.6 880.4L670.86 880.93L671.12 881.47L671.37 882.01L671.61 882.55L671.85 883.09L672.08 883.64L672.29 884.19L672.51 884.74L672.71 885.29L672.92 885.85L673.12 886.4L673.32 886.97L673.52 887.53L673.71 888.09L673.89 888.66L674.08 889.23L674.26 889.8L674.43 890.37L674.6 890.94L674.76 891.52L674.92 892.09L675.07 892.66L675.22 893.24L675.36 893.81L675.49 894.39L675.62 894.97L675.75 895.54L675.88 896.12L676 896.7L676.12 897.29L676.23 897.87L676.35 898.45L676.46 899.04L676.57 899.62L676.67 900.21L676.78 900.79L676.88 901.38L676.98 901.97L677.07 902.56L677.17 903.14L677.26 903.73L677.35 904.32L677.44 904.91L677.53 905.5L677.61 906.08L677.7 906.67L677.79 907.26L677.87 907.85L677.96 908.44L678.05 909.03L678.13 909.61L678.22 910.2L678.3 910.79L678.38 911.38L678.45 911.97L678.52 912.57L678.58 913.16L678.64 913.75L678.69 914.34L678.74 914.93L678.78 915.52L678.8 916.11L678.83 916.71L678.86 917.3L678.88 917.89L678.9 918.48L678.93 919.08L678.95 919.67L678.97 920.26L678.99 920.86L679.01 921.45L679.02 922.04L679.04 922.64L679.05 923.23L679.06 923.83L679.07 924.42L679.08 925.02L679.09 925.61L679.1 926.21L679.1 926.8L679.1 927.4" fill="none" stroke="#111" stroke-width="2.6"/><text x="253.8" y="668.2" font-size="13">10<tspan font-size="7.5" dy="-6">10</tspan></text><text x="253.8" y="728.6" font-size="13">10<tspan font-size="7.5" dy="-6">8</tspan></text><text x="253.4" y="785.7" font-size="13">10<tspan font-size="7.5" dy="-6">6</tspan></text><text x="254.1" y="845.8" font-size="13">10<tspan font-size="7.5" dy="-6">4</tspan></text><text x="254" y="904" font-size="13">10<tspan font-size="7.5" dy="-6">2</tspan></text><text x="262.4" y="957" font-size="13">1</text><text x="272.4" y="971.6" font-size="13">10<tspan font-size="7.5" dy="-6">-3</tspan></text><text x="370.4" y="971.6" font-size="13">10<tspan font-size="7.5" dy="-6">-2</tspan></text><text x="472.3" y="971.6" font-size="13">10<tspan font-size="7.5" dy="-6">-1</tspan></text><text x="576.7" y="970.6" font-size="13">1</text><text x="672.1" y="970.8" font-size="13">10</text><text x="771.6" y="970.8" font-size="13">100</text><text x="508.8" y="990.4" font-size="14.7">Foreline pressure (mbar)</text><text transform="translate(245.8 805.4) rotate(-90)" text-anchor="middle" font-size="15">Compression ratio</text><text x="695.4" y="684.7" font-size="14.3">Argon</text><text x="591.1" y="733.5" font-size="14.3">Nitrogen</text><text x="535.1" y="808.4" font-size="14.3">Helium</text><text x="519.6" y="862.7" font-size="14.3">Hydrogen</text></g>
<text transform="matrix(0.5730 -0.8169 0.6858 0.7392 206.4 1125.7)" font-size="148" class="wm" filter="url(#thin)">all-guides.co</text>
</svg>
</body></html>
